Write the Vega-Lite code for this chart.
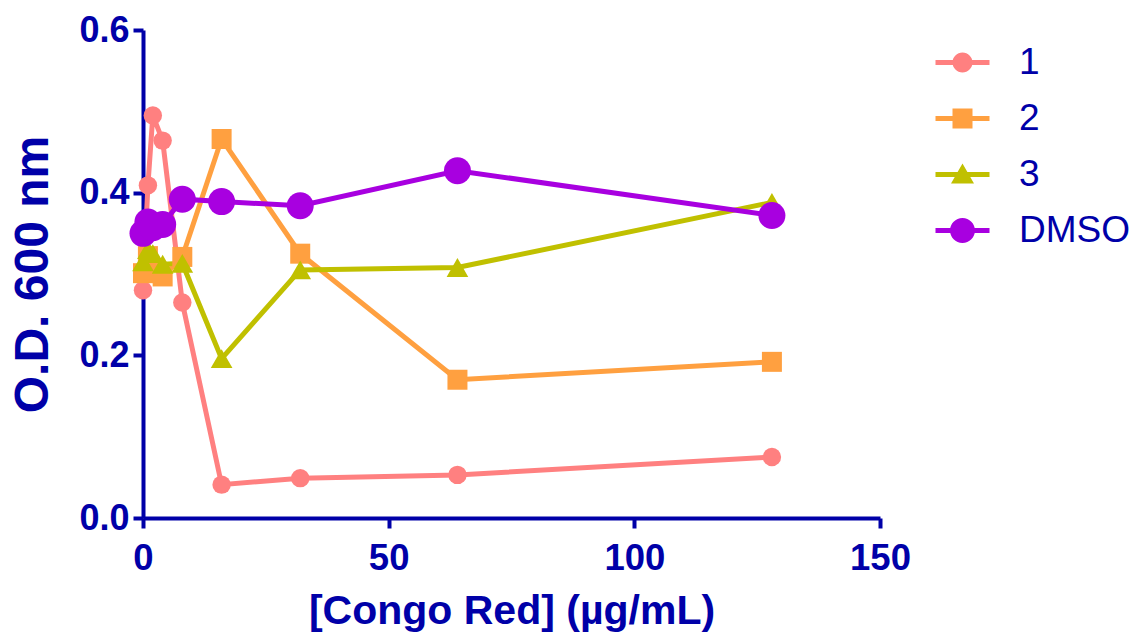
{
  "$schema": "https://vega.github.io/schema/vega-lite/v6.json",
  "width": 737,
  "height": 488,
  "padding": {"left": 9, "top": 12, "right": 5, "bottom": 0},
  "background": "white",
  "config": {
    "view": {"stroke": null},
    "axis": {
      "grid": false,
      "domainColor": "#0000A8",
      "domainWidth": 4,
      "tickColor": "#0000A8",
      "tickWidth": 4,
      "tickSize": 10,
      "labelColor": "#0000A8",
      "labelFont": "Liberation Sans, Arial, sans-serif",
      "labelFontWeight": "bold",
      "labelFlush": false,
      "titleColor": "#0000A8",
      "titleFont": "Liberation Sans, Arial, sans-serif",
      "titleFontWeight": "bold"
    },
    "legend": {
      "orient": "none",
      "legendX": 801,
      "legendY": 14,
      "padding": 0,
      "symbolSize": 100,
      "symbolOpacity": 1,
      "symbolStrokeWidth": 0,
      "labelFontSize": 37,
      "labelColor": "#0000A8",
      "labelFont": "Liberation Sans, Arial, sans-serif",
      "labelOffset": 38,
      "rowPadding": 18
    }
  },
  "data": {
    "values": [
      {"conc": 0, "od": 0.280, "series": "1"},
      {"conc": 1, "od": 0.409, "series": "1"},
      {"conc": 2, "od": 0.495, "series": "1"},
      {"conc": 4, "od": 0.464, "series": "1"},
      {"conc": 8, "od": 0.265, "series": "1"},
      {"conc": 16, "od": 0.041, "series": "1"},
      {"conc": 32, "od": 0.049, "series": "1"},
      {"conc": 64, "od": 0.053, "series": "1"},
      {"conc": 128, "od": 0.075, "series": "1"},
      {"conc": 0, "od": 0.301, "series": "2"},
      {"conc": 1, "od": 0.322, "series": "2"},
      {"conc": 2, "od": 0.305, "series": "2"},
      {"conc": 4, "od": 0.297, "series": "2"},
      {"conc": 8, "od": 0.321, "series": "2"},
      {"conc": 16, "od": 0.466, "series": "2"},
      {"conc": 32, "od": 0.325, "series": "2"},
      {"conc": 64, "od": 0.170, "series": "2"},
      {"conc": 128, "od": 0.192, "series": "2"},
      {"conc": 0, "od": 0.315, "series": "3"},
      {"conc": 1, "od": 0.330, "series": "3"},
      {"conc": 2, "od": 0.325, "series": "3"},
      {"conc": 4, "od": 0.312, "series": "3"},
      {"conc": 8, "od": 0.313, "series": "3"},
      {"conc": 16, "od": 0.196, "series": "3"},
      {"conc": 32, "od": 0.305, "series": "3"},
      {"conc": 64, "od": 0.308, "series": "3"},
      {"conc": 128, "od": 0.388, "series": "3"},
      {"conc": 0, "od": 0.350, "series": "DMSO"},
      {"conc": 1, "od": 0.364, "series": "DMSO"},
      {"conc": 2, "od": 0.357, "series": "DMSO"},
      {"conc": 4, "od": 0.361, "series": "DMSO"},
      {"conc": 8, "od": 0.392, "series": "DMSO"},
      {"conc": 16, "od": 0.389, "series": "DMSO"},
      {"conc": 32, "od": 0.384, "series": "DMSO"},
      {"conc": 64, "od": 0.427, "series": "DMSO"},
      {"conc": 128, "od": 0.372, "series": "DMSO"}
    ]
  },
  "encoding": {
    "x": {
      "field": "conc", "type": "quantitative",
      "scale": {"domain": [0, 150], "nice": false, "zero": false},
      "axis": {"values": [0, 50, 100, 150], "title": "[Congo Red] (µg/mL)", "titleFontSize": 41, "titlePadding": 15, "labelFontSize": 36.5, "labelPadding": 12}
    },
    "y": {
      "field": "od", "type": "quantitative",
      "scale": {"domain": [0, 0.6], "nice": false},
      "axis": {"values": [0, 0.2, 0.4, 0.6], "format": ".1f", "title": "O.D. 600 nm", "titleFontSize": 48, "titlePadding": 21, "labelFontSize": 36, "labelPadding": 4}
    }
  },
  "layer": [
    {
      "mark": {"type": "point", "filled": true, "opacity": 0},
      "encoding": {
        "color": {
          "field": "series", "type": "nominal",
          "scale": {"domain": ["1", "2", "3", "DMSO"], "range": ["#FF8080", "#FFA040", "#C0C000", "#A800E0"]},
          "legend": {"disable": false, "title": null}
        },
        "shape": {
          "field": "series", "type": "nominal",
          "scale": {
            "domain": ["1", "2", "3", "DMSO"],
            "range": [
              "M-5.4,-0.5L5.4,-0.5L5.4,0.5L-5.4,0.5ZM2,0A2,2 0 1,1 -2,0A2,2 0 1,1 2,0Z",
              "M-5.4,-0.5L5.4,-0.5L5.4,0.5L-5.4,0.5ZM-2,-2L2,-2L2,2L-2,2Z",
              "M-5.4,-0.5L5.4,-0.5L5.4,0.5L-5.4,0.5ZM0,-2.2L2.3,1.8L-2.3,1.8Z",
              "M-5.4,-0.5L5.4,-0.5L5.4,0.5L-5.4,0.5ZM2.5,0A2.5,2.5 0 1,1 -2.5,0A2.5,2.5 0 1,1 2.5,0Z"
            ]
          },
          "legend": {"disable": false, "title": null}
        }
      }
    },
    {
      "mark": {"type": "line", "strokeWidth": 5},
      "encoding": {
        "color": {"field": "series", "type": "nominal", "legend": null}
      }
    },
    {
      "mark": {"type": "point", "filled": true, "opacity": 1},
      "encoding": {
        "color": {"field": "series", "type": "nominal", "legend": null},
        "shape": {
          "condition": [
            {"test": "datum.series === '2'", "value": "square"},
            {"test": "datum.series === '3'", "value": "triangle-up"}
          ],
          "value": "circle"
        },
        "size": {
          "condition": [
            {"test": "datum.series === 'DMSO'", "value": 729},
            {"test": "datum.series === '1'", "value": 340},
            {"test": "datum.series === '3'", "value": 470}
          ],
          "value": 400
        }
      }
    }
  ]
}
